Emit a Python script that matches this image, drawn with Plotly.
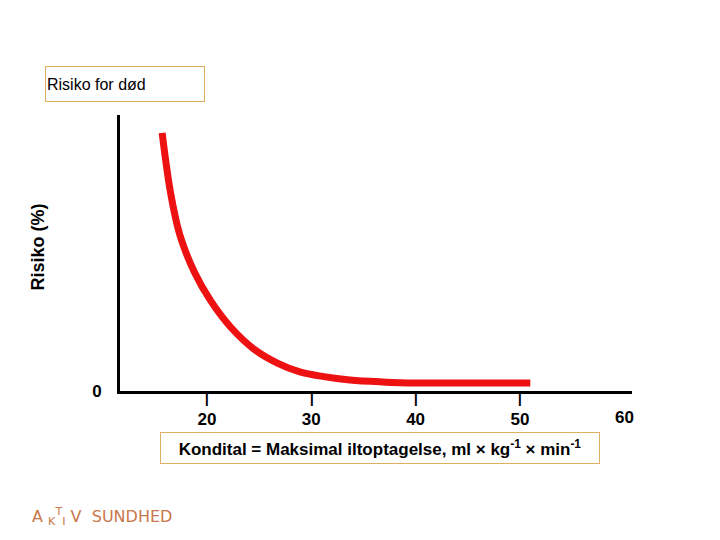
import plotly.graph_objects as go

vo2 = [15.7, 16.5, 17.4, 18.8, 20.3, 22.3, 24.6, 26.8, 28.9, 31.2, 33.7, 36.8, 40.0, 45.0, 51.0]
risk = [93.5, 72, 56.5, 43, 33, 23, 14.9, 10, 6.9, 5.2, 4.0, 3.3, 2.9, 2.9, 2.9]
xticks = [20, 30, 40, 50]

fig = go.Figure(go.Scatter(x=vo2, y=risk, mode="lines", line=dict(color="#ee1111", width=7, shape="spline")))
font = dict(family="Liberation Sans, Arial", size=17, color="black")
tick_marks = [dict(x=v, y=0, xref="x", yref="paper", text="┃", showarrow=False,
                   xanchor="center", yanchor="top", yshift=2,
                   font=dict(family="DejaVu Sans Mono", size=12, color="black"))
              for v in xticks]
fig.update_layout(
    width=720, height=540, margin=dict(l=112, r=96, t=107, b=157, autoexpand=False),
    paper_bgcolor="white", plot_bgcolor="white", showlegend=False,
    xaxis=dict(range=[11.66, 60.75], tickvals=xticks, ticktext=[f"<b>{v}</b>" for v in xticks],
               ticks="", showgrid=False, zeroline=False,
               showline=True, linewidth=3, linecolor="black", tickfont=font, ticklabelstandoff=11,
               automargin=False),
    yaxis=dict(range=[0, 100], tickvals=[0], ticktext=["<b>0</b>"], ticks="", showgrid=False, zeroline=False,
               showline=True, linewidth=3, linecolor="black", tickfont=font, ticklabelstandoff=12,
               automargin=False),
    annotations=tick_marks + [
        dict(x=60, y=0, xref="x", yref="paper", yshift=-26, yanchor="middle", text="<b>60</b>",
             showarrow=False, font=font),
        dict(x=-0.16, y=0.52, xref="paper", yref="paper", text="<b>Risiko (%)</b>", showarrow=False,
             font=dict(family="Liberation Sans, Arial", size=18, color="black"),
             textangle=-90, xanchor="center", yanchor="middle"),
        dict(x=0.01, y=1.112, xref="paper", yref="paper", text="Risiko for død", showarrow=False,
             xanchor="center", yanchor="middle",
             font=dict(family="Liberation Sans, Arial", size=16, color="black"),
             bordercolor="#e0b060", borderwidth=1, width=156, height=32, align="left", bgcolor="white"),
        dict(x=0.508, y=-0.207, xref="paper", yref="paper",
             text="<b>Kondital = Maksimal iltoptagelse, ml × kg<sup>-1</sup> × min<sup>-1</sup></b>",
             showarrow=False, xanchor="center", yanchor="middle", font=font,
             bordercolor="#e0b060", borderwidth=1, width=436, height=28, bgcolor="white"),
        dict(x=-0.176, y=-0.453, xref="paper", yref="paper",
             text="A <sub>K</sub><sup>T</sup><sub>I</sub> V  SUNDHED", showarrow=False, xanchor="left",
             yanchor="middle", font=dict(family="DejaVu Sans", size=16, color="#c8784a")),
    ],
)
fig.write_html("out.html")
